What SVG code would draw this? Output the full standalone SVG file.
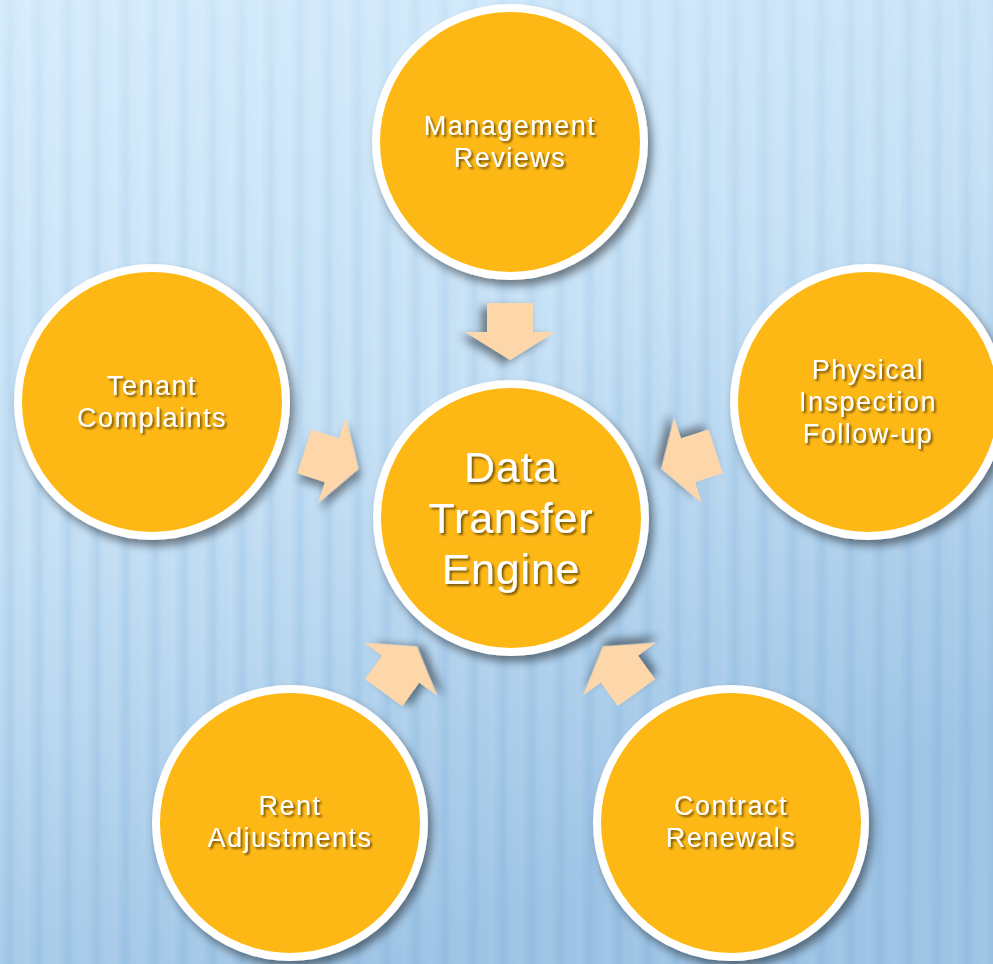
<svg xmlns="http://www.w3.org/2000/svg" width="993" height="964" viewBox="0 0 993 964">
<defs>
<linearGradient id="bg" x1="0" y1="0" x2="0.4" y2="1">
<stop offset="0" stop-color="#D9EEFD"/>
<stop offset="0.5" stop-color="#C8E2F6"/>
<stop offset="1" stop-color="#A1C6E6"/>
</linearGradient>
<linearGradient id="stripeG" x1="0" y1="0" x2="1" y2="0">
<stop offset="0" stop-color="#5F9BD0" stop-opacity="0"/>
<stop offset="0.35" stop-color="#5F9BD0" stop-opacity="0.2"/>
<stop offset="0.55" stop-color="#5F9BD0" stop-opacity="0.05"/>
<stop offset="1" stop-color="#5F9BD0" stop-opacity="0"/>
</linearGradient>
<pattern id="stripes" width="29" height="40" patternUnits="userSpaceOnUse">
<rect width="29" height="40" fill="url(#stripeG)"/>
</pattern>
<linearGradient id="fade" x1="0" y1="0" x2="0" y2="1">
<stop offset="0" stop-color="#fff" stop-opacity="0.45"/>
<stop offset="0.5" stop-color="#fff" stop-opacity="0.9"/>
<stop offset="1" stop-color="#fff" stop-opacity="1"/>
</linearGradient>
<mask id="stripeMask"><rect width="993" height="964" fill="url(#fade)"/></mask>
<filter id="shadow" x="-20%" y="-20%" width="150%" height="150%">
<feDropShadow dx="4" dy="6" stdDeviation="4" flood-color="#000" flood-opacity="0.45"/>
</filter>
<filter id="tshadow" x="-10%" y="-20%" width="130%" height="150%">
<feDropShadow dx="2" dy="2" stdDeviation="1.2" flood-color="#000" flood-opacity="0.55"/>
</filter>
<polygon id="arrow" points="-28,-23 1,-23 1,-45 29,0 1,45 1,23 -28,23"/>
<style>
.circ{fill:#FDB813;stroke:#FFFFFF;stroke-width:8;filter:url(#shadow);}
.arr{fill:#FDD6A9;filter:url(#shadow);}
.lbl{font-family:"Liberation Sans",Arial,sans-serif;font-size:27px;letter-spacing:1.5px;fill:#FFFFFF;text-anchor:middle;filter:url(#tshadow);}
.big{font-family:"Liberation Sans",Arial,sans-serif;font-size:43px;letter-spacing:0.8px;fill:#FFFFFF;text-anchor:middle;filter:url(#tshadow);}
</style>
</defs>
<rect width="993" height="964" fill="url(#bg)"/>
<rect width="993" height="964" fill="url(#stripes)" mask="url(#stripeMask)"/>
<g id="connectors">
<use href="#arrow" class="arr" transform="translate(510,331) rotate(90)"/>
<use href="#arrow" class="arr" transform="translate(331,460) rotate(17.95)"/>
<use href="#arrow" class="arr" transform="translate(689,460) rotate(162.05)"/>
<use href="#arrow" class="arr" transform="translate(400,670) rotate(-54.1)"/>
<use href="#arrow" class="arr" transform="translate(620,670) rotate(-125.9)"/>
</g>
<g id="node-center">
<circle class="circ" cx="511" cy="518" r="134"/>
<text class="big" x="511" y="482">Data</text>
<text class="big" x="511" y="533">Transfer</text>
<text class="big" x="511" y="584">Engine</text>
</g>
<g id="node-management">
<circle class="circ" cx="510" cy="142" r="134"/>
<text class="lbl" x="510" y="135">Management</text>
<text class="lbl" x="510" y="167">Reviews</text>
</g>
<g id="node-tenant">
<circle class="circ" cx="152" cy="402" r="134"/>
<text class="lbl" x="152" y="395">Tenant</text>
<text class="lbl" x="152" y="427">Complaints</text>
</g>
<g id="node-inspection">
<circle class="circ" cx="868" cy="402" r="134"/>
<text class="lbl" x="868" y="379">Physical</text>
<text class="lbl" x="868" y="411">Inspection</text>
<text class="lbl" x="868" y="443">Follow-up</text>
</g>
<g id="node-rent">
<circle class="circ" cx="290" cy="823" r="134"/>
<text class="lbl" x="290" y="815">Rent</text>
<text class="lbl" x="290" y="847">Adjustments</text>
</g>
<g id="node-contract">
<circle class="circ" cx="731" cy="823" r="134"/>
<text class="lbl" x="731" y="815">Contract</text>
<text class="lbl" x="731" y="847">Renewals</text>
</g>
</svg>
